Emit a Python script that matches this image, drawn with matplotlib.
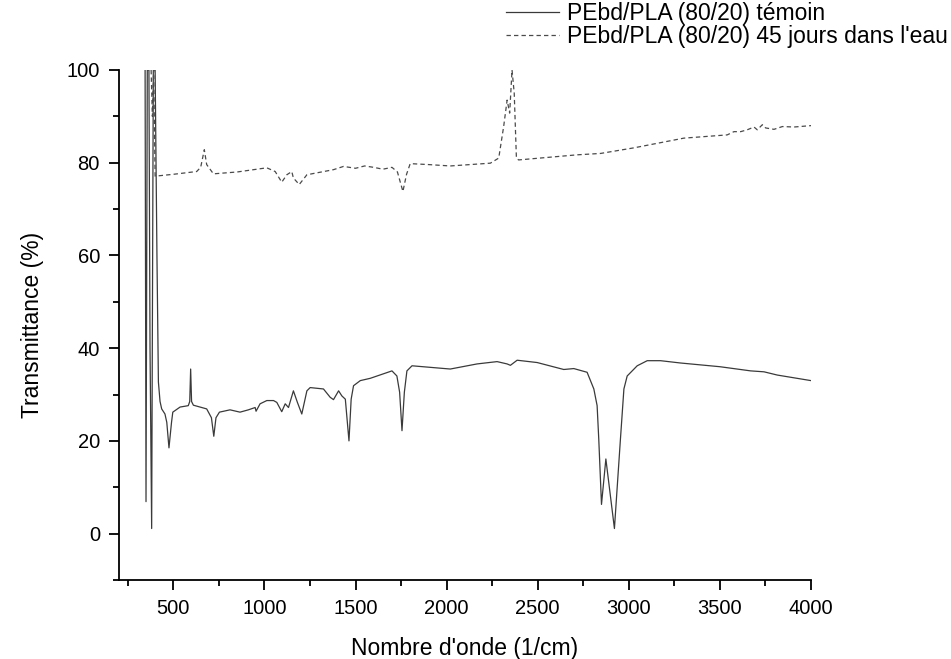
import matplotlib
matplotlib.use("Agg")
import matplotlib.pyplot as plt
from matplotlib.ticker import MultipleLocator

# ---- data ----
wn_temoin = [345, 350, 357, 366, 372, 381, 390, 400, 410, 418, 427, 436, 454, 464, 476, 490,
             497, 537, 582, 590, 595, 600, 610, 683, 709, 722, 734, 753, 811, 866, 912, 949,
             954, 976, 1013, 1050, 1068, 1095, 1114, 1132, 1159, 1181, 1205, 1233, 1251, 1324,
             1361, 1379, 1407, 1425, 1444, 1464, 1476, 1489, 1526, 1581, 1700, 1727, 1742,
             1755, 1768, 1782, 1810, 2020, 2167, 2277, 2332, 2350, 2387, 2497, 2643, 2698,
             2771, 2808, 2826, 2835, 2850, 2874, 2921, 2954, 2973, 2991, 3046, 3101, 3174,
             3284, 3500, 3669, 3742, 3815, 4000]
t_temoin = [100, 6.9, 100, 100, 40, 1.1, 100, 100, 60, 32.7, 28.5, 26.9, 25.8, 24, 18.5, 24,
            26.2, 27.3, 27.6, 28.5, 35.5, 28.5, 27.7, 26.9, 25, 21, 25, 26.2, 26.7, 26.2, 26.7,
            27.2, 26.4, 28, 28.7, 28.7, 28.3, 26.3, 28, 27.2, 30.8, 28.3, 25.8, 30.8, 31.5, 31.2,
            29.4, 28.9, 30.8, 29.7, 29, 20, 29, 31.9, 33, 33.5, 35.1, 34, 30.5,
            22.2, 30.5, 35.1, 36.2, 35.5, 36.6, 37.1, 36.6, 36.3, 37.4, 36.9, 35.4, 35.6,
            34.8, 31.2, 27.6, 20.4, 6.3, 16.1, 1.1, 20.4, 31.2, 34, 36.2, 37.3, 37.3,
            36.8, 36, 35.1, 34.9, 34.2, 33]

wn_eau = [378, 385, 392, 400, 500, 628, 650, 670, 683, 720, 850, 1013, 1059, 1095, 1123, 1150,
          1159, 1191, 1233, 1379, 1434, 1500, 1550, 1600, 1650, 1700, 1730, 1760, 1780, 1800,
          1900, 2020, 2240, 2286, 2313, 2332, 2346, 2359, 2371, 2383, 2395, 2716, 2845, 3027,
          3302, 3540, 3577, 3614, 3650, 3687, 3705, 3733, 3751, 3797, 3843, 3907, 4000]
t_eau = [100, 90, 100, 77.1, 77.5, 78.1, 79, 82.8, 79.6, 77.6, 78, 78.9, 78.1, 75.8, 77.4, 78.1,
         76.7, 75.3, 77.4, 78.5, 79.2, 78.8, 79.3, 79, 78.6, 79, 78, 73.8, 77.5, 79.8,
         79.6, 79.3, 79.9, 81, 87.8, 93.5, 90.7, 100, 95, 81, 80.6, 81.7, 82, 83.2,
         85.3, 86, 86.7, 86.7, 87.1, 87.7, 87.1, 88.2, 87.5, 87.2, 87.8, 87.7, 88]

labels = ["PEbd/PLA (80/20) témoin", "PEbd/PLA (80/20) 45 jours dans l'eau"]
xlabel = "Nombre d'onde (1/cm)"
ylabel = "Transmittance (%)"

plt.rcParams['font.family'] = ['Liberation Sans', 'DejaVu Sans']

fig = plt.figure(figsize=(9.51, 6.59), dpi=100)
ax = fig.add_axes([0.1248, 0.1199, 0.8528 - 0.1248, 0.8938 - 0.1199])

l1, = ax.plot(wn_temoin, t_temoin, color='#3a3a3a', lw=0.9, solid_joinstyle='round')
l2, = ax.plot(wn_eau, t_eau, color='#4a4a4a', lw=0.9, linestyle=(0, (3.5, 2.5)))

ax.set_xlim(200, 4000)
ax.set_ylim(-10, 100)
ax.xaxis.set_major_locator(MultipleLocator(500))
ax.xaxis.set_minor_locator(MultipleLocator(250))
ax.yaxis.set_major_locator(MultipleLocator(20))
ax.yaxis.set_minor_locator(MultipleLocator(10))

for s in ['top', 'right']:
    ax.spines[s].set_visible(False)
for s in ['left', 'bottom']:
    ax.spines[s].set_linewidth(1.3)

ax.tick_params(which='major', direction='out', length=7.5, width=1.3, labelsize=14.5, pad=6)
ax.tick_params(which='minor', direction='out', length=4, width=1.3)

ax.set_xlabel(xlabel, fontsize=16.5, labelpad=14)
ax.set_ylabel(ylabel, fontsize=16.5, labelpad=16)

fig.legend([l1, l2], labels, loc='upper right', bbox_to_anchor=(0.998, 0.999),
           frameon=False, fontsize=16.5, handlelength=2.3, handletextpad=0.35,
           labelspacing=0.02, borderpad=0.05, borderaxespad=0.0)

fig.savefig("out.png", dpi=100)
